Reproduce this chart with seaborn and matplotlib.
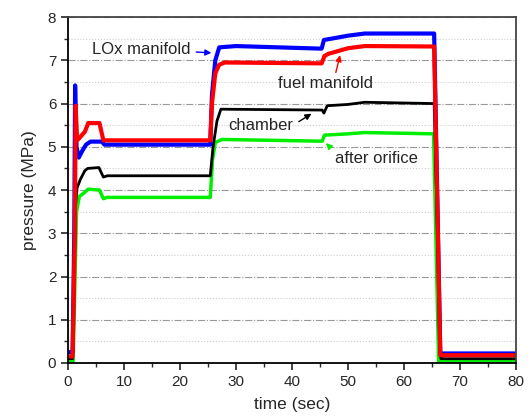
import pandas as pd
import matplotlib
matplotlib.use('Agg')
import matplotlib.pyplot as plt
from matplotlib.ticker import MultipleLocator
import seaborn as sns

# 1. Breakpoints (time in s, pressure in MPa)
chamber_t = [0, 0.8, 1.3, 1.6, 2.2, 3.0, 3.5, 5.5, 6.3, 7.0, 25.4, 25.9, 26.6, 27.3,
             45.4, 45.7, 46.3, 50.0, 53.0, 65.4, 66.6, 80]
chamber_p = [0.1, 0.1, 3.6, 4.05, 4.25, 4.45, 4.5, 4.52, 4.3, 4.33, 4.33, 5.0, 5.6, 5.87,
             5.85, 5.78, 5.95, 5.98, 6.03, 6.0, 0.1, 0.1]

fuel_t = [0, 0.8, 1.2, 1.35, 1.6, 2.0, 3.0, 3.6, 5.6, 6.3, 7.0, 25.4, 25.7, 26.3, 27.0,
          28.0, 45.3, 45.8, 46.5, 50.0, 53.0, 65.4, 66.5, 80]
fuel_p = [0.15, 0.15, 3.0, 5.95, 5.15, 5.2, 5.35, 5.55, 5.55, 5.15, 5.15, 5.15, 6.0, 6.7, 6.9,
          6.95, 6.93, 7.1, 7.15, 7.28, 7.33, 7.32, 0.18, 0.18]

lox_t = [0, 0.8, 1.1, 1.25, 1.5, 1.9, 2.5, 3.2, 4.0, 6.0, 6.5, 25.4, 25.7, 26.3, 27.0,
         30.0, 45.3, 45.7, 50.0, 53.0, 65.4, 66.5, 80]
lox_p = [0.25, 0.25, 3.0, 6.42, 5.0, 4.75, 4.9, 5.05, 5.12, 5.12, 5.05, 5.05, 6.2, 7.0, 7.3,
         7.33, 7.27, 7.47, 7.57, 7.62, 7.62, 0.22, 0.22]

orifice_t = [0, 0.9, 1.5, 2.0, 3.0, 3.6, 5.6, 6.3, 7.0, 25.4, 25.8, 26.3, 27.5,
             45.4, 45.8, 50.0, 53.0, 65.3, 66.2, 80]
orifice_p = [0.05, 0.05, 3.5, 3.85, 3.95, 4.02, 4.0, 3.8, 3.83, 3.83, 4.7, 5.1, 5.17,
             5.13, 5.27, 5.3, 5.33, 5.3, 0.05, 0.05]

# 2. Style
sns.set_style('ticks')
plt.rcParams['font.family'] = ['Liberation Sans', 'DejaVu Sans']

fig = plt.figure(figsize=(5.28, 4.17), dpi=100)
ax = fig.add_axes([0.129, 0.1295, 0.848, 0.8295])

# 3. Draw the traces
sns.lineplot(x=orifice_t, y=orifice_p, color='#00ee00', lw=2.5, ax=ax)
sns.lineplot(x=chamber_t, y=chamber_p, color='black', lw=2.0, ax=ax)
sns.lineplot(x=lox_t, y=lox_p, color='#0000ff', lw=3.0, ax=ax)
sns.lineplot(x=fuel_t, y=fuel_p, color='#ff0000', lw=3.0, ax=ax)

# 4. Annotations
arrow = dict(arrowstyle='-|>', lw=1.0, mutation_scale=9)
ax.annotate('LOx manifold', xy=(26.1, 7.17), xytext=(21.8, 7.26), fontsize=12,
            ha='right', va='center', arrowprops=dict(arrow, color='#0000ff'))
ax.annotate('fuel manifold', xy=(48.6, 7.12), xytext=(37.5, 6.47), fontsize=12,
            ha='left', va='center',
            arrowprops=dict(arrow, color='#ff0000', relpos=(0.6, 1.0), shrinkA=0, shrinkB=0))
ax.annotate('chamber', xy=(43.9, 5.8), xytext=(28.6, 5.5), fontsize=12,
            ha='left', va='center', arrowprops=dict(arrow, color='black', relpos=(1.0, 0.5)))
ax.annotate('after orifice', xy=(45.7, 5.13), xytext=(47.7, 4.74), fontsize=12,
            ha='left', va='center', arrowprops=dict(arrow, color='#00ee00', relpos=(0.0, 0.9)))

# 5. Axes, ticks and grid
ax.set_xlim(0, 80)
ax.set_ylim(0, 8)
ax.xaxis.set_major_locator(MultipleLocator(10))
ax.xaxis.set_minor_locator(MultipleLocator(5))
ax.yaxis.set_major_locator(MultipleLocator(1))
ax.yaxis.set_minor_locator(MultipleLocator(0.5))
ax.tick_params(which='major', direction='out', length=5, width=1.2, labelsize=11)
ax.tick_params(which='minor', direction='out', length=3, width=1.0)
ax.yaxis.grid(True, which='major', linestyle='-.', color='#999999', lw=0.8)
ax.yaxis.grid(True, which='minor', linestyle=':', color='#cccccc', lw=0.8)
ax.set_axisbelow(True)

for side in ['left', 'bottom']:
    ax.spines[side].set_color('black')
    ax.spines[side].set_linewidth(1.3)
for side in ['top', 'right']:
    ax.spines[side].set_visible(True)
    ax.spines[side].set_color('#444444')
    ax.spines[side].set_linewidth(1.3)

ax.set_xlabel('time (sec)', fontsize=12.5, labelpad=6)
ax.set_ylabel('pressure (MPa)', fontsize=12.5, labelpad=8)

plt.savefig('out.png', dpi=100)
